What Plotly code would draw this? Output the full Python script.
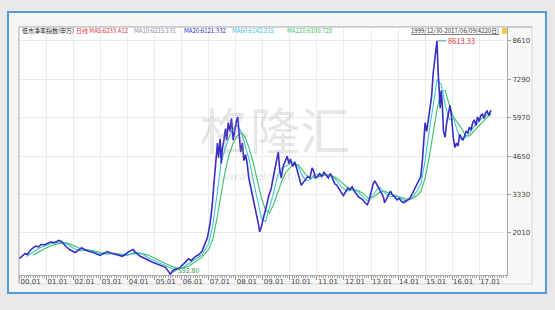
import plotly.graph_objects as go

# ---------------- data ----------------
price_x = [1999.99, 2000.10, 2000.20, 2000.30, 2000.40, 2000.50, 2000.60, 2000.70, 2000.80, 2000.90,
           2001.00, 2001.15, 2001.30, 2001.45, 2001.55, 2001.65, 2001.75, 2001.85, 2001.95, 2002.05,
           2002.15, 2002.30, 2002.40, 2002.55, 2002.70, 2002.85, 2002.98, 2003.10, 2003.25, 2003.35,
           2003.50, 2003.65, 2003.80, 2003.92, 2004.05, 2004.20, 2004.30, 2004.45, 2004.60, 2004.75,
           2004.90, 2005.05, 2005.20, 2005.30, 2005.40, 2005.50, 2005.55, 2005.58, 2005.65, 2005.75,
           2005.90, 2006.00, 2006.10, 2006.25, 2006.35, 2006.50, 2006.62, 2006.75, 2006.85, 2006.95,
           2007.05, 2007.12, 2007.18, 2007.25, 2007.32, 2007.36, 2007.42, 2007.46, 2007.50, 2007.56,
           2007.62, 2007.66, 2007.72, 2007.78, 2007.84, 2007.90, 2007.96, 2008.02, 2008.07, 2008.12,
           2008.18, 2008.24, 2008.30, 2008.36, 2008.42, 2008.48, 2008.55, 2008.62, 2008.70, 2008.78,
           2008.84, 2008.88, 2008.94, 2009.00, 2009.08, 2009.15, 2009.22, 2009.30, 2009.38, 2009.45,
           2009.52, 2009.57, 2009.62, 2009.68, 2009.75, 2009.82, 2009.90, 2009.96, 2010.02, 2010.10,
           2010.18, 2010.26, 2010.34, 2010.42, 2010.50, 2010.58, 2010.66, 2010.74, 2010.82, 2010.88,
           2010.94, 2011.02, 2011.10, 2011.18, 2011.26, 2011.34, 2011.42, 2011.50, 2011.58, 2011.66,
           2011.74, 2011.82, 2011.90, 2011.98, 2012.06, 2012.14, 2012.22, 2012.30, 2012.38, 2012.46,
           2012.54, 2012.62, 2012.70, 2012.78, 2012.86, 2012.92, 2013.00, 2013.08, 2013.14, 2013.22,
           2013.30, 2013.38, 2013.46, 2013.50, 2013.56, 2013.64, 2013.72, 2013.80, 2013.88, 2013.96,
           2014.04, 2014.12, 2014.20, 2014.28, 2014.36, 2014.44, 2014.52, 2014.60, 2014.68, 2014.76,
           2014.84, 2014.90, 2014.95, 2015.00, 2015.06, 2015.12, 2015.18, 2015.24, 2015.30, 2015.36,
           2015.40, 2015.44, 2015.48, 2015.52, 2015.56, 2015.60, 2015.64, 2015.68, 2015.74, 2015.80,
           2015.86, 2015.92, 2015.98, 2016.04, 2016.10, 2016.16, 2016.22, 2016.28, 2016.34, 2016.40,
           2016.46, 2016.52, 2016.58, 2016.64, 2016.70, 2016.76, 2016.82, 2016.88, 2016.94, 2017.00,
           2017.06, 2017.12, 2017.18, 2017.24, 2017.30, 2017.36, 2017.40, 2017.44]
price_y = [1130, 1220, 1300, 1280, 1420, 1500, 1560, 1530, 1620, 1600,
           1650, 1700, 1680, 1760, 1720, 1600, 1520, 1440, 1380, 1340,
           1400, 1500, 1440, 1380, 1350, 1290, 1240, 1300, 1370, 1330,
           1290, 1250, 1210, 1280, 1380, 1440, 1330, 1220, 1160, 1080,
           1010, 960, 920, 880, 830, 700, 620, 593, 690, 760,
           790, 880, 960, 1120, 1060, 1200, 1260, 1380, 1620, 1850,
           2350, 2900, 3600, 4300, 5100, 4600, 5250, 4400, 4900, 5200,
           5600, 5200, 5800, 5500, 5950, 5200, 5600, 5850, 6000, 5400,
           4800, 5100, 4500, 4700, 4400, 3900, 3600, 3300, 2900, 2500,
           2300, 2050, 2200, 2450, 2700, 3000, 3300, 3500, 3900, 4200,
           4600, 4800, 4200, 3900, 4300, 4500, 4650, 4400, 4550, 4300,
           4450, 4200, 3900, 3650, 3750, 3850, 3950, 3900, 4250, 4150,
           3900, 3950, 4050, 3950, 4100, 4000, 3900, 4050, 3850, 3700,
           3650, 3500, 3400, 3300, 3450, 3550, 3500, 3600, 3450, 3350,
           3250, 3200, 3150, 3050, 2980, 3100, 3450, 3700, 3800, 3650,
           3500, 3400, 3250, 3050, 3150, 3300, 3450, 3300, 3250, 3150,
           3200, 3100, 3050, 3100, 3150, 3200, 3350, 3500, 3650, 3750,
           3950, 4500, 5300, 5800, 5500, 5900, 6300, 6700, 7500, 8000,
           8300, 8613.33, 7600, 6700, 6300, 6900, 6400, 5500, 5300, 5800,
           6100, 6400, 6000, 5300, 4950, 5100, 5000, 5400, 5300, 5200,
           5350, 5500, 5450, 5650, 5550, 5800, 5900, 5700, 6000, 5850,
           6050, 6100, 5950, 6150, 6200, 6050, 6150, 6233]

ma60_x = [2000.25, 2000.5, 2000.75, 2001.0, 2001.25, 2001.5, 2001.75, 2002.0, 2002.25, 2002.5,
          2002.75, 2003.0, 2003.25, 2003.5, 2003.75, 2004.0, 2004.25, 2004.5, 2004.75, 2005.0,
          2005.25, 2005.5, 2005.75, 2006.0, 2006.25, 2006.5, 2006.75, 2007.0, 2007.15, 2007.3,
          2007.45, 2007.6, 2007.75, 2007.9, 2008.05, 2008.2, 2008.35, 2008.5, 2008.65, 2008.8,
          2008.95, 2009.1, 2009.25, 2009.4, 2009.55, 2009.7, 2009.85, 2010.0, 2010.15, 2010.3,
          2010.45, 2010.6, 2010.75, 2010.9, 2011.1, 2011.3, 2011.5, 2011.7, 2011.9, 2012.1,
          2012.3, 2012.5, 2012.7, 2012.9, 2013.1, 2013.3, 2013.5, 2013.7, 2013.9, 2014.1,
          2014.3, 2014.5, 2014.7, 2014.85, 2015.0, 2015.15, 2015.3, 2015.45, 2015.6, 2015.75,
          2015.9, 2016.05, 2016.2, 2016.35, 2016.5, 2016.65, 2016.8, 2016.95, 2017.1, 2017.25, 2017.44]
ma60_y = [1200, 1350, 1500, 1590, 1660, 1700, 1640, 1480, 1400, 1420,
          1370, 1290, 1290, 1320, 1250, 1240, 1360, 1310, 1160, 1060,
          960, 860, 740, 800, 960, 1120, 1260, 1650, 2300, 3300,
          4400, 4900, 5300, 5600, 5700, 5500, 5000, 4500, 3800, 3100,
          2500, 2400, 2900, 3400, 4000, 4250, 4300, 4400, 4450, 4300,
          4000, 3800, 3850, 4000, 4030, 4020, 4000, 3850, 3600, 3450,
          3500, 3450, 3250, 3100, 3350, 3600, 3400, 3250, 3300, 3200,
          3100, 3200, 3450, 3700, 4500, 5500, 6400, 7300, 7100, 6400,
          5900, 5950, 5500, 5200, 5300, 5450, 5650, 5800, 5950, 6050, 6142]

ma120_x = [2000.5, 2000.75, 2001.0, 2001.25, 2001.5, 2001.75, 2002.0, 2002.25, 2002.5, 2002.75,
           2003.0, 2003.25, 2003.5, 2003.75, 2004.0, 2004.25, 2004.5, 2004.75, 2005.0, 2005.25,
           2005.5, 2005.75, 2006.0, 2006.25, 2006.5, 2006.75, 2007.0, 2007.15, 2007.3, 2007.45,
           2007.6, 2007.75, 2007.9, 2008.05, 2008.2, 2008.35, 2008.5, 2008.65, 2008.8, 2008.95,
           2009.1, 2009.25, 2009.4, 2009.55, 2009.7, 2009.85, 2010.0, 2010.15, 2010.3, 2010.45,
           2010.6, 2010.75, 2010.9, 2011.1, 2011.3, 2011.5, 2011.7, 2011.9, 2012.1, 2012.3,
           2012.5, 2012.7, 2012.9, 2013.1, 2013.3, 2013.5, 2013.7, 2013.9, 2014.1, 2014.3,
           2014.5, 2014.7, 2014.85, 2015.0, 2015.15, 2015.3, 2015.45, 2015.6, 2015.75, 2015.9,
           2016.05, 2016.2, 2016.35, 2016.5, 2016.65, 2016.8, 2016.95, 2017.1, 2017.25, 2017.44]
ma120_y = [1250, 1380, 1500, 1600, 1660, 1670, 1580, 1480, 1430, 1400,
           1340, 1300, 1300, 1280, 1260, 1300, 1300, 1250, 1130, 1020,
           920, 820, 790, 870, 1020, 1180, 1450, 1800, 2500, 3300,
           4100, 4700, 5100, 5350, 5450, 5300, 4900, 4400, 3800, 3200,
           2800, 2700, 3000, 3400, 3800, 4100, 4250, 4350, 4350, 4200,
           4000, 3900, 3920, 3950, 4000, 4000, 3920, 3750, 3600, 3500,
           3480, 3380, 3200, 3250, 3400, 3450, 3350, 3300, 3250, 3180,
           3180, 3300, 3450, 3900, 4600, 5400, 6300, 6900, 6900, 6400,
           6000, 5800, 5600, 5350, 5350, 5500, 5650, 5800, 5950, 6100]

x_tickvals = list(range(2000, 2018))
x_ticktext = ["00.01", "01.01", "02.01", "03.01", "04.01", "05.01", "06.01", "07.01", "08.01",
              "09.01", "10.01", "11.01", "12.01", "13.01", "14.01", "15.01", "16.01", "17.01"]
y_tickvals = [2010, 3330, 4650, 5970, 7290, 8610]

peak = (2015.44, 8613.33)
low = (2005.58, 592.80)

# ---------------- layout helpers ----------------
W, H = 555, 310
L, R, T, B = 19, 507, 27, 275
def px(x):
    return (x - L) / (R - L)
def py(y):
    return (B - y) / (B - T)

FONT = "Noto Sans CJK SC, DejaVu Sans, sans-serif"

fig = go.Figure()
fig.add_trace(go.Scatter(x=ma120_x, y=ma120_y, mode="lines",
                         line=dict(color="#3cbf62", width=1.1), hoverinfo="skip"))
fig.add_trace(go.Scatter(x=ma60_x, y=ma60_y, mode="lines",
                         line=dict(color="#3ec3dd", width=1.1), hoverinfo="skip"))
fig.add_trace(go.Scatter(x=price_x, y=price_y, mode="lines",
                         line=dict(color="#3a2cc4", width=1.6), hoverinfo="skip"))

shapes = [
    # framed panel
    dict(type="rect", xref="paper", yref="paper", x0=px(8), x1=px(546), y0=py(293), y1=py(12),
         fillcolor="#f5f5f5", line=dict(color="#5b9bd5", width=2), layer="below"),
    # chart component background
    dict(type="rect", xref="paper", yref="paper", x0=px(L), x1=px(532), y0=py(284), y1=py(T),
         fillcolor="#f7f7f7", line=dict(color="#d8d8d8", width=1), layer="below"),
    # plot area
    dict(type="rect", xref="paper", yref="paper", x0=0, x1=1, y0=0, y1=1,
         fillcolor="#ffffff", line=dict(width=0), layer="below"),
    # top border line
    dict(type="line", xref="paper", yref="paper", x0=px(L), x1=px(532), y0=1, y1=1,
         line=dict(color="#b0b0b0", width=1)),
    # left border line
    dict(type="line", xref="paper", yref="paper", x0=0, x1=0, y0=py(284), y1=1,
         line=dict(color="#b0b0b0", width=1)),
    # little yellow icon
    dict(type="rect", xref="paper", yref="paper", x0=px(502), x1=px(507), y0=py(34), y1=py(28),
         fillcolor="#f2c94c", line=dict(width=0)),
]

def hdr(x, text, color, anchor="left", size=6):
    return dict(xref="paper", yref="paper", x=px(x), y=py(31), text=text, showarrow=False,
                xanchor=anchor, yanchor="middle",
                font=dict(family=FONT, size=size, color=color))

annotations = [
    hdr(20, "低市净率指数(申万)", "#222222"),
    hdr(74, "日线 MA5:6233.412", "#e0303a"),
    hdr(132, "MA10:6215.131", "#8a8aa8"),
    hdr(182, "MA20:6121.332", "#2a2ad0"),
    hdr(230, "MA60:6142.215", "#3ec3dd"),
    hdr(285, "MA120:6100.728", "#3cbf62"),
    hdr(501, "<u>1999/12/30-2017/06/09(4220日)</u>", "#333333", anchor="right"),
    # watermark
    dict(xref="paper", yref="paper", x=px(275), y=py(128), text="格隆汇", showarrow=False,
         font=dict(family=FONT, size=50, color="rgba(140,140,140,0.22)")),
    dict(xref="paper", yref="paper", x=px(275), y=py(176), text="www.gelonghui.com", showarrow=False,
         font=dict(family="DejaVu Sans", size=11, color="rgba(140,140,140,0.25)")),
    # peak / low marks
    dict(x=peak[0], y=peak[1], text=f"{peak[1]:.2f}", showarrow=True, ax=9, ay=0,
         xanchor="left", arrowhead=0, arrowwidth=1, arrowcolor="#2aa5a0", standoff=1,
         font=dict(family=FONT, size=7.5, color="#e0303a")),
    dict(x=low[0], y=low[1], text=f"{low[1]:.2f}", showarrow=True, ax=6, ay=-4,
         xanchor="left", yanchor="middle", arrowhead=0, arrowwidth=1, arrowcolor="#2aa5a0",
         standoff=1, font=dict(family=FONT, size=7, color="#2e9a3e")),
]

fig.update_layout(
    width=W, height=H, margin=dict(l=L, r=W - R, t=T, b=H - B),
    paper_bgcolor="#e9e9e9", plot_bgcolor="rgba(0,0,0,0)",
    showlegend=False, shapes=shapes, annotations=annotations,
    xaxis=dict(range=[1999.98, 2018.03], tickmode="array", tickvals=x_tickvals, ticktext=x_ticktext,
               ticklabelposition="outside right", tickangle=0, ticks="outside", ticklen=4,
               tickcolor="#999999",
               tickfont=dict(family="DejaVu Sans", size=7, color="#444444"),
               showgrid=True, gridcolor="#ebebeb", gridwidth=1, zeroline=False,
               showline=True, linecolor="#aaaaaa", linewidth=1,
               minor=dict(tickmode="linear", tick0=2000, dtick=1/12, ticklen=2,
                          tickcolor="#aaaaaa", showgrid=False)),
    yaxis=dict(range=[566, 9091], side="right", tickmode="array", tickvals=y_tickvals,
               ticks="outside", ticklen=3, tickcolor="#999999",
               tickfont=dict(family="DejaVu Sans", size=7, color="#444444"),
               showgrid=True, gridcolor="#ebebeb", gridwidth=1, zeroline=False,
               showline=True, linecolor="#aaaaaa", linewidth=1),
)

fig.write_html("out.html")
